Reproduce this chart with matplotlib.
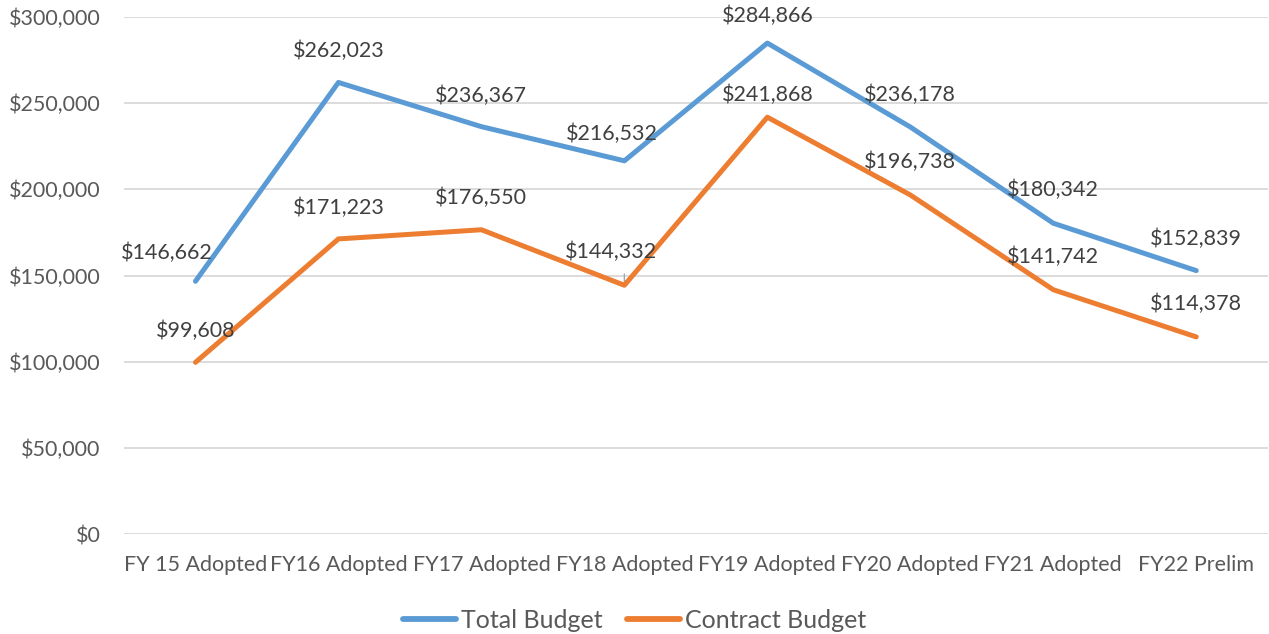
import matplotlib.pyplot as plt
import numpy as np
from matplotlib.ticker import FuncFormatter

categories = ["FY 15 Adopted", "FY16 Adopted", "FY17 Adopted", "FY18 Adopted",
              "FY19 Adopted", "FY20 Adopted", "FY21 Adopted", "FY22 Prelim"]
total_budget = [146662, 262023, 236367, 216532, 284866, 236178, 180342, 152839]
contract_budget = [99608, 171223, 176550, 144332, 241868, 196738, 141742, 114378]

BLUE = "#5B9BD5"
ORANGE = "#ED7D31"
TICK = "#595959"
LABEL = "#404040"
FS = 15.5

plt.rcParams["font.family"] = ["Lato", "DejaVu Sans"]

fig = plt.figure(figsize=(12.69, 6.34), dpi=100)
ax = fig.add_axes([0.0977, 0.1577, 0.9013, 0.8155])

x = np.arange(len(categories))
ax.plot(x, total_budget, color=BLUE, linewidth=3.6, solid_capstyle="round",
        label="Total Budget", zorder=3)
ax.plot(x, contract_budget, color=ORANGE, linewidth=3.6, solid_capstyle="round",
        label="Contract Budget", zorder=3)

ax.set_xlim(-0.5, len(categories) - 0.5)
ax.set_ylim(0, 300000)
ax.set_yticks(np.arange(0, 300001, 50000))
ax.yaxis.set_major_formatter(FuncFormatter(lambda v, _: f"${v:,.0f}"))
ax.set_xticks(x)
ax.set_xticklabels(categories)
ax.tick_params(axis="both", length=0, labelsize=FS, colors=TICK)
ax.tick_params(axis="x", pad=15)
ax.tick_params(axis="y", pad=17)
ax.grid(axis="y", color="#D9D9D9", linewidth=1.3)
ax.set_axisbelow(True)
for s in ax.spines.values():
    s.set_visible(False)

# label offsets in pixels (dx, dy)
total_off = [(-29, 28), (0, 32), (0, 31), (-13, 27), (0, 27), (0, 32), (0, 33), (0, 32)]
contract_off = [(0, 31), (0, 31), (0, 32), (-13, 33), (0, 22), (0, 33), (0, 33), (0, 33)]

for i, v in enumerate(total_budget):
    ax.annotate(f"${v:,}", xy=(x[i], v), xytext=total_off[i], textcoords="offset pixels",
                ha="center", va="center", fontsize=FS, color=LABEL, zorder=4)
for i, v in enumerate(contract_budget):
    ax.annotate(f"${v:,}", xy=(x[i], v), xytext=contract_off[i], textcoords="offset pixels",
                ha="center", va="center", fontsize=FS, color=LABEL, zorder=4)

# leader line for the FY18 contract label
ax.annotate("", xy=(x[3], contract_budget[3]), xytext=(0, 14), textcoords="offset pixels",
            arrowprops=dict(arrowstyle="-", color="#A6A6A6", lw=1), zorder=2)

leg = fig.legend(loc="center", bbox_to_anchor=(0.5, 0.022), ncol=2, frameon=False,
                 fontsize=18, handlelength=2.1, columnspacing=1.0, handletextpad=0.2,
                 borderaxespad=0)
for line in leg.get_lines():
    line.set_linewidth(4.2)
for t in leg.get_texts():
    t.set_color(TICK)

fig.savefig("out.png", dpi=100)
